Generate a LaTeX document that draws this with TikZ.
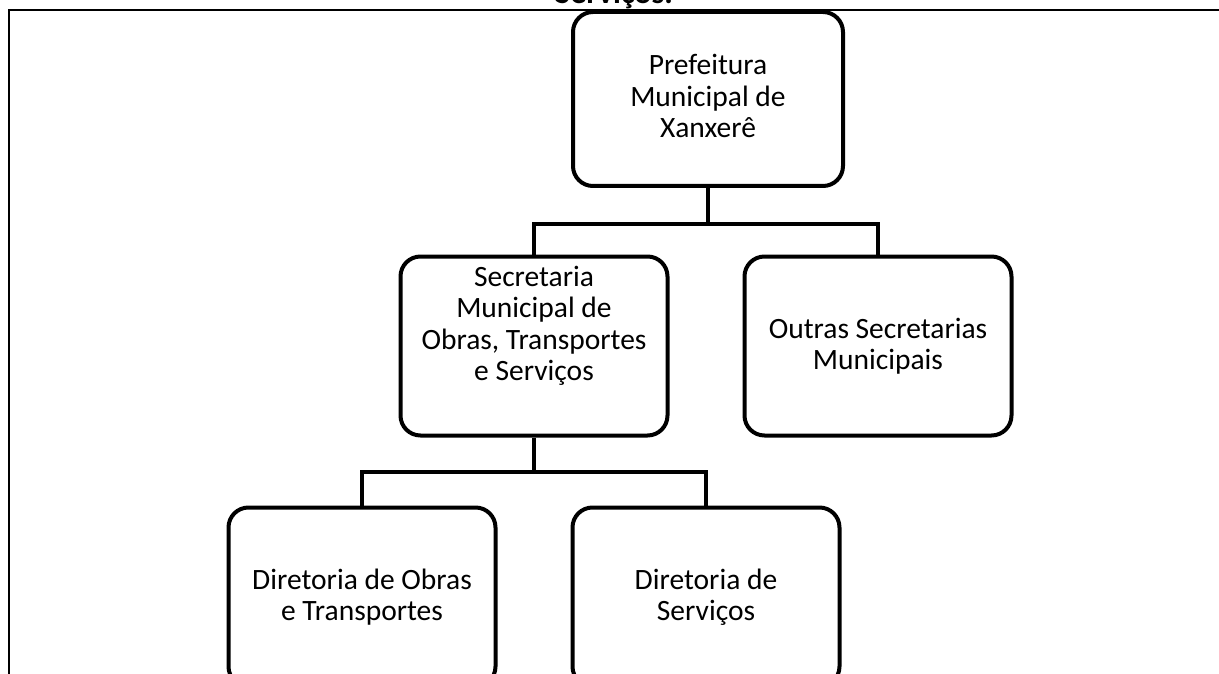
\documentclass[tikz,border=0pt]{standalone}
\usepackage{fontspec}
\setmainfont{Carlito}
\usetikzlibrary{calc}
\begin{document}
\begin{tikzpicture}[x=1pt,y=-1pt,
  orgbox/.style={draw=black,line width=4pt,rounded corners=20pt,minimum width=267pt,minimum height=179pt,inner sep=0pt},
  boxtext/.style={align=center,inner sep=0pt,font=\fontsize{29.5}{31.5}\selectfont},
  link/.style={draw=black,line width=4pt},
  frame/.style={draw=black,line width=2pt}]
\useasboundingbox (0,0) rectangle (1219,674);
\clip (0,0) rectangle (1219,674);
\node[font=\bfseries\fontsize{32}{38}\selectfont,anchor=base] (title) at (614,4) {Serviços.};
\coordinate (fa) at (1225,10);
\coordinate (fb) at (9,10);
\coordinate (fc) at (9,690);
\draw[frame] (fa) -- (fb) -- (fc);
\node[orgbox,minimum width=270pt,minimum height=174pt] (pref) at (708,99) {};
\node[boxtext] (preft) at (708,96) {Prefeitura\\Municipal de\\Xanxerê};
\node[orgbox] (sec) at (534,346) {};
\node[boxtext] (sect) at (534,326) {Secretaria\\Municipal de\\Obras, Transportes\\e Serviços};
\node[orgbox] (out) at (878,346) {};
\node[boxtext] (outt) at (878,346) {Outras Secretarias\\Municipais};
\node[orgbox] (dot) at (362,597) {};
\node[boxtext] (dott) at (362,597) {Diretoria de Obras\\e Transportes};
\node[orgbox] (dse) at (706,597) {};
\node[boxtext] (dset) at (706,597) {Diretoria de\\Serviços};
\coordinate (j1) at ($(pref.south)+(0,36)$);
\coordinate (j2) at ($(sec.south)+(0,34)$);
\draw[link] (pref.south) -- (j1);
\draw[link] (sec.north) |- (j1) -| (out.north);
\draw[link] (sec.south) -- (j2);
\draw[link] (dot.north) |- (j2) -| (dse.north);
\end{tikzpicture}
\end{document}
